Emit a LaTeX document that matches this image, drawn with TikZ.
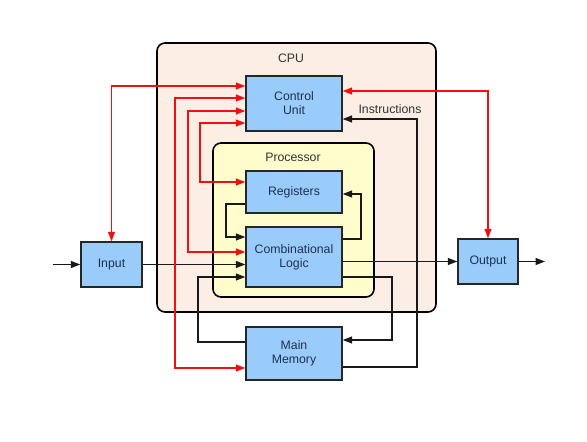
\documentclass[tikz,border=0pt]{standalone}
\usepackage{fontspec}
\setmainfont{Liberation Sans}
\usetikzlibrary{arrows.meta}
\definecolor{cpufill}{HTML}{FCEEE4}
\definecolor{procfill}{HTML}{FFFDCC}
\definecolor{unitfill}{HTML}{99CCFA}
\definecolor{unittext}{HTML}{1E3050}
\definecolor{redline}{HTML}{F01010}
\begin{document}
\begin{tikzpicture}[x=1pt,y=-1pt,
  unit/.style={draw=black!85,line width=1.4pt,fill=unitfill,text=unittext,align=center,
    minimum width=96pt,font=\fontsize{12.3}{14}\selectfont},
  caption/.style={text=black!80,font=\fontsize{12.3}{14}\selectfont},
  wire/.style={line width=1.3pt,black!90},
  ctrl/.style={line width=1.3pt,redline},
  tip/.style={-{Triangle[length=9.5pt,width=7pt]}},
  tips/.style={{Triangle[length=9.5pt,width=7pt]}-{Triangle[length=9.5pt,width=7pt]}}]
\useasboundingbox (0,0) rectangle (587,442);
\draw[fill=cpufill,line width=1.6pt,rounded corners=8pt] (157,43) rectangle (436,312);
\draw[fill=procfill,line width=1.6pt,rounded corners=8pt] (213,143) rectangle (374,297);
\node[caption] (cpu) at (291,58) {CPU};
\node[caption] (proc) at (293,157) {Processor};

\node[unit,minimum height=55pt] (cu) at (294,103.5) {Control\\Unit};
\node[unit,minimum height=42pt] (reg) at (294,192) {Registers};
\node[unit,minimum height=60pt] (cl) at (294,257) {Combinational\\Logic};
\node[unit,minimum height=53pt] (mm) at (294,353.5) {Main\\Memory};
\node[unit,minimum width=61pt,minimum height=45pt] (in) at (111.5,264.5) {Input};
\node[unit,minimum width=60pt,minimum height=45pt] (out) at (488,261.5) {Output};
\node[caption] (instr) at (390,109) {Instructions};
\coordinate (src) at (53,264.5);
\coordinate (sink) at (545,261.5);

% data paths
\draw[wire,tip] (src) -- (in.west);
\draw[wire,tip] (in.east) -- (cl.west |- in.east);
\draw[wire,tip] (cl.east |- out.west) -- (out.west);
\draw[wire,tip] (out.east) -- (sink);
\draw[wire,tip] (reg.west |- 0,204) -| (226,237) -- (cl.west |- 0,237);
\draw[wire,tip] (cl.east |- 0,239) -| (361,194) -- (reg.east |- 0,194);
\draw[wire,tip] (mm.west |- 0,342) -| (198,277) -- (cl.west |- 0,277);
\draw[wire,tip] (cl.east |- 0,277) -| (392,340) -- (mm.east |- 0,340);
\draw[wire,tip] (mm.east |- 0,367) -| (417,119) -- (cu.east |- 0,119);

% control paths
\draw[ctrl,tips] (in.north) |- (cu.west |- 0,86);
\draw[ctrl,tips] (cu.west |- 0,98) -| (175,368) -- (mm.west |- 0,368);
\draw[ctrl,tips] (cu.west |- 0,111) -| (188,252) -- (cl.west |- 0,252);
\draw[ctrl,tips] (cu.west |- 0,123) -| (200,182) -- (reg.west |- 0,182);
\draw[ctrl,tips] (cu.east |- 0,91) -| (out.north);
\end{tikzpicture}
\end{document}
